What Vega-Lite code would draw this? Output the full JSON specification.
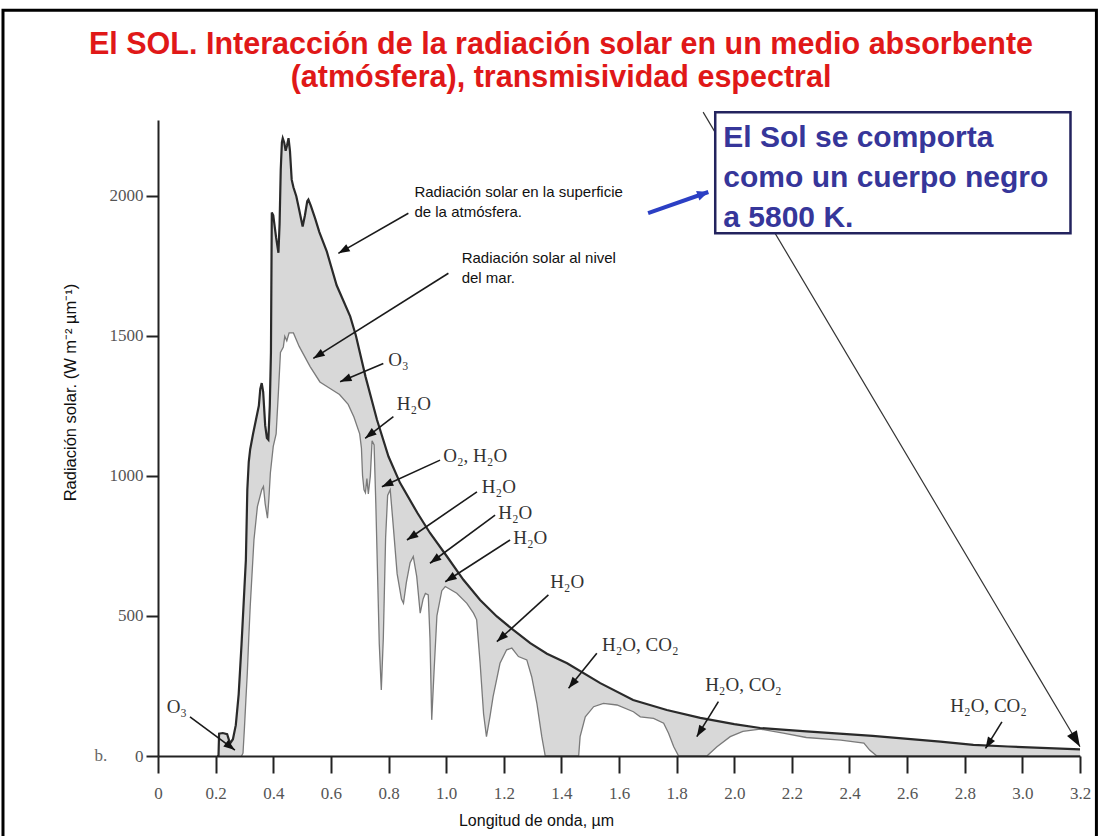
{
  "$schema": "https://vega.github.io/schema/vega-lite/v6.json",
  "width": 922,
  "height": 636,
  "autosize": {"type": "none"},
  "padding": {"left": 158, "top": 120, "right": 19, "bottom": 80},
  "background": "white",
  "config": {"view": {"stroke": null}},
  "title": {
    "text": ["El SOL. Interacción de la radiación solar en un medio absorbente", "(atmósfera), transmisividad espectral"],
    "color": "#e01818",
    "font": "'Liberation Sans', Arial, sans-serif",
    "fontSize": 30.5,
    "fontWeight": "bold",
    "anchor": "middle",
    "frame": "group",
    "dx": -58,
    "offset": -85,
    "lineHeight": 33
  },
  "datasets": {
    "toa": [
      {"wl": 0.205, "irr": 0}, {"wl": 0.21, "irr": 0}, {"wl": 0.212, "irr": 80}, {"wl": 0.225, "irr": 82},
      {"wl": 0.24, "irr": 78}, {"wl": 0.25, "irr": 45}, {"wl": 0.26, "irr": 60}, {"wl": 0.27, "irr": 110},
      {"wl": 0.28, "irr": 220}, {"wl": 0.29, "irr": 400}, {"wl": 0.3, "irr": 600}, {"wl": 0.305, "irr": 700},
      {"wl": 0.31, "irr": 950}, {"wl": 0.315, "irr": 1050}, {"wl": 0.32, "irr": 1095}, {"wl": 0.33, "irr": 1150},
      {"wl": 0.34, "irr": 1200}, {"wl": 0.35, "irr": 1250}, {"wl": 0.355, "irr": 1310}, {"wl": 0.36, "irr": 1331},
      {"wl": 0.365, "irr": 1300}, {"wl": 0.372, "irr": 1180}, {"wl": 0.378, "irr": 1135}, {"wl": 0.383, "irr": 1129},
      {"wl": 0.388, "irr": 1250}, {"wl": 0.392, "irr": 1440}, {"wl": 0.395, "irr": 1940}, {"wl": 0.4, "irr": 1930},
      {"wl": 0.41, "irr": 1850}, {"wl": 0.418, "irr": 1796}, {"wl": 0.422, "irr": 1900}, {"wl": 0.426, "irr": 2093},
      {"wl": 0.43, "irr": 2190}, {"wl": 0.433, "irr": 2205}, {"wl": 0.438, "irr": 2190}, {"wl": 0.443, "irr": 2160},
      {"wl": 0.448, "irr": 2180}, {"wl": 0.453, "irr": 2205}, {"wl": 0.458, "irr": 2160}, {"wl": 0.464, "irr": 2057},
      {"wl": 0.47, "irr": 2030}, {"wl": 0.48, "irr": 1998}, {"wl": 0.49, "irr": 1950}, {"wl": 0.502, "irr": 1890},
      {"wl": 0.51, "irr": 1930}, {"wl": 0.518, "irr": 1980}, {"wl": 0.522, "irr": 1986}, {"wl": 0.53, "irr": 1965},
      {"wl": 0.545, "irr": 1920}, {"wl": 0.56, "irr": 1870}, {"wl": 0.586, "irr": 1800}, {"wl": 0.62, "irr": 1680},
      {"wl": 0.667, "irr": 1569}, {"wl": 0.687, "irr": 1500}, {"wl": 0.72, "irr": 1355}, {"wl": 0.76, "irr": 1200},
      {"wl": 0.8, "irr": 1069}, {"wl": 0.84, "irr": 975}, {"wl": 0.9, "irr": 868}, {"wl": 0.944, "irr": 796},
      {"wl": 1.003, "irr": 712}, {"wl": 1.06, "irr": 629}, {"wl": 1.118, "irr": 557}, {"wl": 1.176, "irr": 498},
      {"wl": 1.233, "irr": 450}, {"wl": 1.292, "irr": 403}, {"wl": 1.35, "irr": 365}, {"wl": 1.42, "irr": 331},
      {"wl": 1.535, "irr": 260}, {"wl": 1.649, "irr": 200}, {"wl": 1.766, "irr": 164}, {"wl": 1.882, "irr": 136},
      {"wl": 2.0, "irr": 114}, {"wl": 2.09, "irr": 100}, {"wl": 2.25, "irr": 88}, {"wl": 2.48, "irr": 72},
      {"wl": 2.715, "irr": 51}, {"wl": 2.83, "irr": 40}, {"wl": 2.95, "irr": 34}, {"wl": 3.2, "irr": 24}
    ],
    "sea": [
      {"wl": 0.29, "irr": 0}, {"wl": 0.295, "irr": 10}, {"wl": 0.3, "irr": 100}, {"wl": 0.305, "irr": 200},
      {"wl": 0.31, "irr": 296}, {"wl": 0.315, "irr": 420}, {"wl": 0.32, "irr": 533}, {"wl": 0.333, "irr": 771},
      {"wl": 0.345, "irr": 890}, {"wl": 0.36, "irr": 950}, {"wl": 0.366, "irr": 962}, {"wl": 0.372, "irr": 900},
      {"wl": 0.38, "irr": 849}, {"wl": 0.385, "irr": 920}, {"wl": 0.39, "irr": 1010}, {"wl": 0.4, "irr": 1105},
      {"wl": 0.41, "irr": 1150}, {"wl": 0.418, "irr": 1300}, {"wl": 0.425, "irr": 1440}, {"wl": 0.435, "irr": 1460},
      {"wl": 0.44, "irr": 1498}, {"wl": 0.447, "irr": 1482}, {"wl": 0.455, "irr": 1510}, {"wl": 0.47, "irr": 1510},
      {"wl": 0.49, "irr": 1462}, {"wl": 0.528, "irr": 1390}, {"wl": 0.562, "irr": 1335}, {"wl": 0.6, "irr": 1310},
      {"wl": 0.63, "irr": 1290}, {"wl": 0.66, "irr": 1255}, {"wl": 0.68, "irr": 1210}, {"wl": 0.7, "irr": 1150},
      {"wl": 0.706, "irr": 1100}, {"wl": 0.71, "irr": 1000}, {"wl": 0.715, "irr": 950}, {"wl": 0.72, "irr": 940},
      {"wl": 0.725, "irr": 990}, {"wl": 0.73, "irr": 935}, {"wl": 0.737, "irr": 1000}, {"wl": 0.743, "irr": 1125},
      {"wl": 0.75, "irr": 1110}, {"wl": 0.756, "irr": 900}, {"wl": 0.762, "irr": 650}, {"wl": 0.768, "irr": 400},
      {"wl": 0.775, "irr": 236}, {"wl": 0.782, "irr": 420}, {"wl": 0.79, "irr": 780}, {"wl": 0.797, "irr": 930},
      {"wl": 0.806, "irr": 950}, {"wl": 0.815, "irr": 840}, {"wl": 0.83, "irr": 650}, {"wl": 0.845, "irr": 560},
      {"wl": 0.852, "irr": 545}, {"wl": 0.862, "irr": 620}, {"wl": 0.875, "irr": 690}, {"wl": 0.886, "irr": 712},
      {"wl": 0.898, "irr": 640}, {"wl": 0.91, "irr": 510}, {"wl": 0.92, "irr": 560}, {"wl": 0.928, "irr": 580},
      {"wl": 0.938, "irr": 575}, {"wl": 0.944, "irr": 420}, {"wl": 0.95, "irr": 129}, {"wl": 0.958, "irr": 300},
      {"wl": 0.968, "irr": 500}, {"wl": 0.985, "irr": 590}, {"wl": 0.997, "irr": 605}, {"wl": 1.037, "irr": 581},
      {"wl": 1.072, "irr": 545}, {"wl": 1.095, "irr": 510}, {"wl": 1.106, "irr": 486}, {"wl": 1.118, "irr": 331},
      {"wl": 1.13, "irr": 150}, {"wl": 1.14, "irr": 69}, {"wl": 1.152, "irr": 140}, {"wl": 1.163, "irr": 212},
      {"wl": 1.187, "irr": 331}, {"wl": 1.21, "irr": 379}, {"wl": 1.228, "irr": 385}, {"wl": 1.251, "irr": 355},
      {"wl": 1.28, "irr": 343}, {"wl": 1.297, "irr": 283}, {"wl": 1.315, "irr": 188}, {"wl": 1.332, "irr": 69},
      {"wl": 1.344, "irr": 0}, {"wl": 1.46, "irr": 0}, {"wl": 1.465, "irr": 69}, {"wl": 1.483, "irr": 140},
      {"wl": 1.512, "irr": 176}, {"wl": 1.546, "irr": 188}, {"wl": 1.593, "irr": 182}, {"wl": 1.65, "irr": 158},
      {"wl": 1.674, "irr": 140}, {"wl": 1.72, "irr": 134}, {"wl": 1.755, "irr": 117}, {"wl": 1.772, "irr": 81},
      {"wl": 1.79, "irr": 33}, {"wl": 1.807, "irr": 0}, {"wl": 1.905, "irr": 0}, {"wl": 1.94, "irr": 33},
      {"wl": 1.986, "irr": 69}, {"wl": 2.03, "irr": 88}, {"wl": 2.09, "irr": 96}, {"wl": 2.17, "irr": 82},
      {"wl": 2.25, "irr": 66}, {"wl": 2.37, "irr": 57}, {"wl": 2.45, "irr": 46}, {"wl": 2.47, "irr": 21},
      {"wl": 2.495, "irr": 0}, {"wl": 3.2, "irr": 0}
    ],
    "arrows": [
      {"x1": 0.869, "y1": 1937, "x2": 0.626, "y2": 1794},
      {"x1": 1.008, "y1": 1723, "x2": 0.539, "y2": 1419},
      {"x1": 0.782, "y1": 1401, "x2": 0.632, "y2": 1336},
      {"x1": 0.817, "y1": 1211, "x2": 0.719, "y2": 1134},
      {"x1": 0.979, "y1": 1056, "x2": 0.777, "y2": 961},
      {"x1": 1.107, "y1": 943, "x2": 0.864, "y2": 771},
      {"x1": 1.17, "y1": 860, "x2": 0.944, "y2": 688},
      {"x1": 1.222, "y1": 771, "x2": 0.997, "y2": 622},
      {"x1": 1.355, "y1": 575, "x2": 1.176, "y2": 408},
      {"x1": 1.523, "y1": 367, "x2": 1.425, "y2": 242},
      {"x1": 1.945, "y1": 194, "x2": 1.87, "y2": 69},
      {"x1": 2.929, "y1": 122, "x2": 2.872, "y2": 27},
      {"x1": 0.111, "y1": 140, "x2": 0.267, "y2": 21}
    ],
    "bigArrow": [{"x1": 1.892, "y1": 2298, "x2": 3.2, "y2": 33}],
    "blueArrow": [{"x1": 1.701, "y1": 1938, "x2": 1.91, "y2": 2013}],
    "sansLabels": [
      {"x": 0.89, "y": 1995, "text": "Radiación solar en la superficie"},
      {"x": 0.89, "y": 1924, "text": "de la atmósfera."},
      {"x": 1.054, "y": 1759, "text": "Radiación solar al nivel"},
      {"x": 1.054, "y": 1688, "text": "del mar."}
    ],
    "chemLabels": [
      {"x": 0.799, "y": 1392, "text": "O₃"},
      {"x": 0.829, "y": 1235, "text": "H₂O"},
      {"x": 0.99, "y": 1049, "text": "O₂, H₂O"},
      {"x": 1.124, "y": 939, "text": "H₂O"},
      {"x": 1.181, "y": 846, "text": "H₂O"},
      {"x": 1.233, "y": 757, "text": "H₂O"},
      {"x": 1.361, "y": 600, "text": "H₂O"},
      {"x": 1.541, "y": 375, "text": "H₂O, CO₂"},
      {"x": 1.899, "y": 232, "text": "H₂O, CO₂"},
      {"x": 2.75, "y": 157, "text": "H₂O, CO₂"},
      {"x": 0.03, "y": 153, "text": "O₃"}
    ],
    "boxText": [
      {"x": 1.962, "y": 2173, "text": "El Sol se comporta"},
      {"x": 1.962, "y": 2031, "text": "como un cuerpo negro"},
      {"x": 1.962, "y": 1888, "text": "a 5800 K."}
    ],
    "panel": [{"x": -0.22, "y": 0, "text": "b."}]
  },
  "layer": [
    {
      "data": {"name": "toa"},
      "mark": {"type": "area", "fill": "#d8d8d8", "interpolate": "linear"},
      "encoding": {
        "x": {
          "field": "wl", "type": "quantitative",
          "scale": {"domain": [0, 3.2], "nice": false, "zero": false},
          "axis": {
            "values": [0, 0.1, 0.2, 0.3, 0.4, 0.5, 0.6, 0.7, 0.8, 0.9, 1, 1.1, 1.2, 1.3, 1.4, 1.5, 1.6, 1.7, 1.8, 1.9, 2, 2.1, 2.2, 2.3, 2.4, 2.5, 2.6, 2.7, 2.8, 2.9, 3, 3.1, 3.2],
            "labelExpr": "round(datum.value * 10) % 2 === 0 ? (datum.value === 0 ? '0' : format(datum.value, '.1f')) : ''",
            "tickSize": {"condition": {"test": "round(datum.value * 10) % 2 === 0", "value": 17}, "value": 10},
            "tickWidth": 2, "tickColor": "#222",
            "domainWidth": 2, "domainColor": "#222",
            "grid": false,
            "labelFont": "'Liberation Serif', serif", "labelFontSize": 17, "labelColor": "#555",
            "labelPadding": 12,
            "labelFlush": false, "labelOverlap": false,
            "title": "Longitud de onda, µm",
            "titleFont": "'Liberation Sans', sans-serif",
            "titleFontSize": 16, "titleFontWeight": "normal", "titleColor": "#111",
            "titleX": 378, "titleY": 64, "titleBaseline": "middle", "titleAlign": "center",
            "zindex": 1
          }
        },
        "y": {
          "field": "irr", "type": "quantitative",
          "scale": {"domain": [0, 2270], "nice": false},
          "axis": {
            "values": [0, 500, 1000, 1500, 2000],
            "format": "d",
            "tickSize": 12, "tickWidth": 2, "tickColor": "#222",
            "domainWidth": 2, "domainColor": "#222",
            "grid": false,
            "labelFont": "'Liberation Serif', serif", "labelFontSize": 17, "labelColor": "#555",
            "labelPadding": 3,
            "title": "Radiación solar.  (W m⁻² µm⁻¹)",
            "titleFont": "'Liberation Sans', sans-serif",
            "titleFontSize": 16.5, "titleFontWeight": "normal", "titleColor": "#111",
            "titleX": -88, "titleY": 272, "titleBaseline": "middle", "titleAlign": "center",
            "zindex": 1
          }
        }
      }
    },
    {
      "data": {"name": "sea"},
      "mark": {"type": "area", "fill": "white", "interpolate": "linear"},
      "encoding": {
        "x": {"field": "wl", "type": "quantitative"},
        "y": {"field": "irr", "type": "quantitative"}
      }
    },
    {
      "data": {"name": "sea"},
      "mark": {"type": "line", "stroke": "#7a7a7a", "strokeWidth": 1.3, "interpolate": "linear"},
      "encoding": {
        "x": {"field": "wl", "type": "quantitative"},
        "y": {"field": "irr", "type": "quantitative"}
      }
    },
    {
      "data": {"name": "toa"},
      "mark": {"type": "line", "stroke": "#2a2a2a", "strokeWidth": 2.2, "interpolate": "linear"},
      "encoding": {
        "x": {"field": "wl", "type": "quantitative"},
        "y": {"field": "irr", "type": "quantitative"}
      }
    },
    {
      "data": {"values": [{}]},
      "mark": {"type": "rect", "fill": "transparent", "stroke": "black", "strokeWidth": 3},
      "encoding": {
        "x": {"datum": -0.538, "type": "quantitative"},
        "x2": {"datum": 3.257},
        "y": {"datum": 2662, "type": "quantitative"},
        "y2": {"datum": -320}
      }
    },
    {
      "data": {"name": "arrows"},
      "mark": {"type": "rule", "stroke": "#1a1a1a", "strokeWidth": 1.6},
      "encoding": {
        "x": {"field": "x1", "type": "quantitative"},
        "y": {"field": "y1", "type": "quantitative"},
        "x2": {"field": "x2"},
        "y2": {"field": "y2"}
      }
    },
    {
      "data": {"name": "arrows"},
      "mark": {
        "type": "point", "filled": true, "fill": "#111", "stroke": null, "opacity": 1,
        "shape": "M0,0L-0.36,1L0.36,1Z", "size": 520,
        "angle": {"expr": "atan2(scale('x', datum.x2) - scale('x', datum.x1), scale('y', datum.y1) - scale('y', datum.y2)) * 180 / PI"}
      },
      "encoding": {
        "x": {"field": "x2", "type": "quantitative"},
        "y": {"field": "y2", "type": "quantitative"}
      }
    },
    {
      "data": {"name": "bigArrow"},
      "mark": {"type": "rule", "stroke": "#333", "strokeWidth": 1.2},
      "encoding": {
        "x": {"field": "x1", "type": "quantitative"},
        "y": {"field": "y1", "type": "quantitative"},
        "x2": {"field": "x2"},
        "y2": {"field": "y2"}
      }
    },
    {
      "data": {"name": "bigArrow"},
      "mark": {
        "type": "point", "filled": true, "fill": "#111", "stroke": null, "opacity": 1,
        "shape": "M0,0L-0.36,1L0.36,1Z", "size": 1000,
        "angle": {"expr": "atan2(scale('x', datum.x2) - scale('x', datum.x1), scale('y', datum.y1) - scale('y', datum.y2)) * 180 / PI"}
      },
      "encoding": {
        "x": {"field": "x2", "type": "quantitative"},
        "y": {"field": "y2", "type": "quantitative"}
      }
    },
    {
      "data": {"name": "blueArrow"},
      "mark": {"type": "rule", "stroke": "#2b3fc4", "strokeWidth": 4},
      "encoding": {
        "x": {"field": "x1", "type": "quantitative"},
        "y": {"field": "y1", "type": "quantitative"},
        "x2": {"field": "x2"},
        "y2": {"field": "y2"}
      }
    },
    {
      "data": {"name": "blueArrow"},
      "mark": {
        "type": "point", "filled": true, "fill": "#2b3fc4", "stroke": null, "opacity": 1,
        "shape": "M0,0L-0.45,1L0.45,1Z", "size": 500,
        "angle": {"expr": "atan2(scale('x', datum.x2) - scale('x', datum.x1), scale('y', datum.y1) - scale('y', datum.y2)) * 180 / PI"}
      },
      "encoding": {
        "x": {"field": "x2", "type": "quantitative"},
        "y": {"field": "y2", "type": "quantitative"}
      }
    },
    {
      "data": {"values": [{}]},
      "mark": {"type": "rect", "fill": "white", "stroke": "#23235e", "strokeWidth": 2.5},
      "encoding": {
        "x": {"datum": 1.934, "type": "quantitative"},
        "x2": {"datum": 3.167},
        "y": {"datum": 2298, "type": "quantitative"},
        "y2": {"datum": 1866}
      }
    },
    {
      "data": {"name": "boxText"},
      "mark": {"type": "text", "align": "left", "baseline": "alphabetic", "font": "'Liberation Sans', Arial, sans-serif", "fontWeight": "bold", "fontSize": 30, "fill": "#36369a"},
      "encoding": {
        "x": {"field": "x", "type": "quantitative"},
        "y": {"field": "y", "type": "quantitative"},
        "text": {"field": "text"}
      }
    },
    {
      "data": {"name": "sansLabels"},
      "mark": {"type": "text", "align": "left", "baseline": "alphabetic", "font": "'Liberation Sans', sans-serif", "fontSize": 15, "fill": "#111"},
      "encoding": {
        "x": {"field": "x", "type": "quantitative"},
        "y": {"field": "y", "type": "quantitative"},
        "text": {"field": "text"}
      }
    },
    {
      "data": {"name": "chemLabels"},
      "mark": {"type": "text", "align": "left", "baseline": "alphabetic", "font": "'Liberation Serif', 'DejaVu Serif', serif", "fontSize": 19, "fill": "#333"},
      "encoding": {
        "x": {"field": "x", "type": "quantitative"},
        "y": {"field": "y", "type": "quantitative"},
        "text": {"field": "text"}
      }
    },
    {
      "data": {"name": "panel"},
      "mark": {"type": "text", "align": "left", "baseline": "middle", "font": "'Liberation Serif', serif", "fontSize": 17, "fill": "#666"},
      "encoding": {
        "x": {"field": "x", "type": "quantitative"},
        "y": {"field": "y", "type": "quantitative"},
        "text": {"field": "text"}
      }
    }
  ]
}
